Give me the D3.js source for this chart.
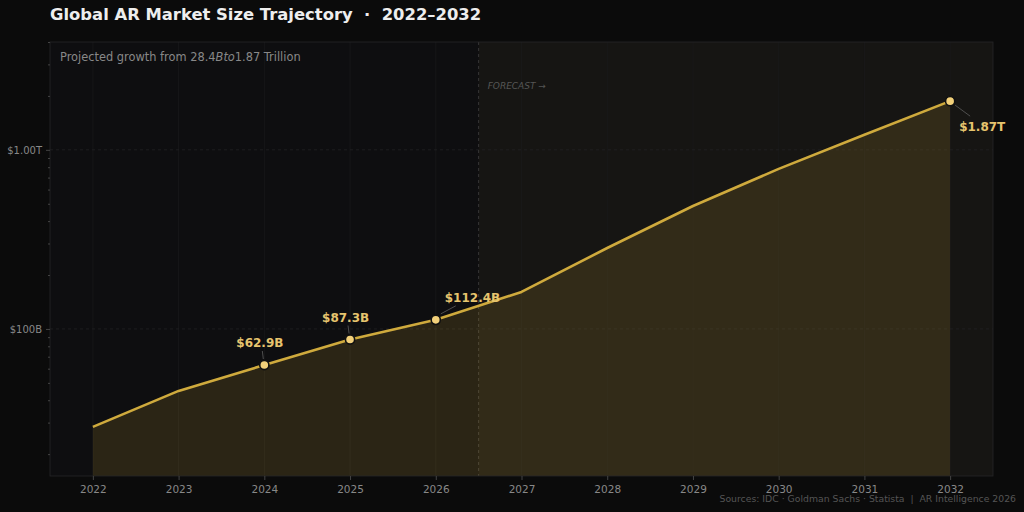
<!DOCTYPE html>
<html>
<head>
<meta charset="utf-8">
<script src="https://cdn.jsdelivr.net/npm/d3@7"></script>
<style>
  body { margin: 0; background: #0b0b0b; }
  svg { display: block; font-family: "DejaVu Sans", sans-serif; }
</style>
</head>
<body>
<script>
// data, in billions of dollars
let years = [2022, 2023, 2024, 2025, 2026, 2027, 2028, 2029, 2030, 2031, 2032];
let marketSize = [28.4, 45.1, 62.9, 87.3, 112.4, 161, 283, 486, 783, 1213, 1870];
let labelled = [
  {year: 2024, text: "$62.9B",  dx: -28, dy: -18},
  {year: 2025, text: "$87.3B",  dx: -28, dy: -18},
  {year: 2026, text: "$112.4B", dx: 9,   dy: -18},
  {year: 2032, text: "$1.87T",  dx: 9,   dy: 30}
];
let yTicks = [100, 1000];
let yTickLabels = ["$100B", "$1.00T"];
let forecastStart = 2026.5;

let width = 1024, height = 512;
let plotLeft = 50, plotRight = 993, plotTop = 42, plotBottom = 476;

let svg = d3.select("body").append("svg")
  .attr("width", width)
  .attr("height", height);

svg.append("rect").attr("width", width).attr("height", height).attr("fill", "#0b0b0b");

let xScale = d3.scaleLinear().domain([2021.5, 2032.5]).range([plotLeft, plotRight]);
let yScale = d3.scaleLog().domain([15.1, 4000]).range([plotBottom, plotTop]);

// axes background and forecast region
svg.append("rect")
  .attr("x", plotLeft).attr("y", plotTop)
  .attr("width", plotRight - plotLeft).attr("height", plotBottom - plotTop)
  .attr("fill", "#0e0e10");
svg.append("rect")
  .attr("x", xScale(forecastStart)).attr("y", plotTop)
  .attr("width", plotRight - xScale(forecastStart)).attr("height", plotBottom - plotTop)
  .attr("fill", "#161513");

// grid
svg.append("g").selectAll("line")
  .data(years)
  .enter().append("line")
  .attr("x1", d => xScale(d)).attr("x2", d => xScale(d))
  .attr("y1", plotTop).attr("y2", plotBottom)
  .attr("stroke", "#19191b").attr("stroke-width", 0.8);
svg.append("g").selectAll("line")
  .data(yTicks)
  .enter().append("line")
  .attr("x1", plotLeft).attr("x2", plotRight)
  .attr("y1", d => yScale(d)).attr("y2", d => yScale(d))
  .attr("stroke", "#222224").attr("stroke-width", 0.8)
  .attr("stroke-dasharray", "3,3");

// forecast divider
svg.append("line")
  .attr("x1", xScale(forecastStart)).attr("x2", xScale(forecastStart))
  .attr("y1", plotTop).attr("y2", plotBottom)
  .attr("stroke", "#363636").attr("stroke-width", 1)
  .attr("stroke-dasharray", "3,3");
svg.append("text")
  .attr("x", xScale(forecastStart) + 9).attr("y", 89)
  .attr("fill", "#555").attr("font-size", 9).attr("font-style", "italic")
  .text("FORECAST \u2192");

let points = years.map((y, i) => ({year: y, value: marketSize[i]}));

// area + line
let area = d3.area()
  .x(d => xScale(d.year))
  .y0(plotBottom)
  .y1(d => yScale(d.value));
svg.append("path")
  .datum(points)
  .attr("d", area)
  .attr("fill", "#d4af37").attr("fill-opacity", 0.15);

let line = d3.line()
  .x(d => xScale(d.year))
  .y(d => yScale(d.value));
svg.append("path")
  .datum(points)
  .attr("d", line)
  .attr("fill", "none")
  .attr("stroke", "#cfaa3d").attr("stroke-width", 2.6)
  .attr("stroke-linejoin", "round");

// spines
svg.append("rect")
  .attr("x", plotLeft).attr("y", plotTop)
  .attr("width", plotRight - plotLeft).attr("height", plotBottom - plotTop)
  .attr("fill", "none").attr("stroke", "#262628").attr("stroke-width", 0.8);

// x axis
let xAxis = svg.append("g").attr("transform", `translate(0,${plotBottom})`)
  .call(d3.axisBottom(xScale).tickValues(years).tickFormat(d3.format("d")).tickSize(4).tickPadding(6));
xAxis.select(".domain").remove();
xAxis.selectAll("line").attr("stroke", "#444");
xAxis.selectAll("text").attr("fill", "#888").attr("font-size", 10.5)
  .attr("font-family", "DejaVu Sans, sans-serif");

// y axis, major and minor ticks
let minor = [];
[10, 100, 1000].forEach(base => {
  for (let k = 2; k <= 9; k++) {
    let v = base * k;
    if (v >= 15.1 && v <= 4000) minor.push(v);
  }
});
let yMinor = svg.append("g").attr("transform", `translate(${plotLeft},0)`)
  .call(d3.axisLeft(yScale).tickValues(minor).tickFormat("").tickSize(2));
yMinor.select(".domain").remove();
yMinor.selectAll("line").attr("stroke", "#444");

let yAxis = svg.append("g").attr("transform", `translate(${plotLeft},0)`)
  .call(d3.axisLeft(yScale).tickValues(yTicks)
    .tickFormat((d, i) => yTickLabels[i]).tickSize(4).tickPadding(4));
yAxis.select(".domain").remove();
yAxis.selectAll("line").attr("stroke", "#444");
yAxis.selectAll("text").attr("fill", "#888").attr("font-size", 10)
  .attr("font-family", "DejaVu Sans, sans-serif");

// annotations
let ann = svg.append("g").selectAll("g")
  .data(labelled)
  .enter().append("g");
ann.append("line")
  .attr("x1", d => xScale(d.year) + (d.dx > 0 ? 5 : -1))
  .attr("y1", d => yScale(marketSize[years.indexOf(d.year)]) + (d.dy > 0 ? 4 : -6))
  .attr("x2", d => xScale(d.year) + (d.dx > 0 ? 20 : -2))
  .attr("y2", d => yScale(marketSize[years.indexOf(d.year)]) + (d.dy > 0 ? 15 : -14))
  .attr("stroke", "#555").attr("stroke-width", 0.9);
ann.append("text")
  .attr("x", d => xScale(d.year) + d.dx)
  .attr("y", d => yScale(marketSize[years.indexOf(d.year)]) + d.dy)
  .attr("fill", "#e6c46e").attr("font-size", 12).attr("font-weight", "bold")
  .text(d => d.text);

// markers
svg.append("g").selectAll("circle")
  .data(points.filter(p => labelled.some(l => l.year === p.year)))
  .enter().append("circle")
  .attr("cx", d => xScale(d.year))
  .attr("cy", d => yScale(d.value))
  .attr("r", 4.6)
  .attr("fill", "#f2d07a")
  .attr("stroke", "#111").attr("stroke-width", 1.6);

// titles
svg.append("text")
  .attr("x", plotLeft).attr("y", 20)
  .attr("fill", "#eeeeee").attr("font-size", 16.4).attr("font-weight", "bold")
  .style("white-space", "pre")
  .text("Global AR Market Size Trajectory  \u00b7  2022\u20132032");

let sub = svg.append("text")
  .attr("x", 60).attr("y", 61)
  .attr("fill", "#888").attr("font-size", 11.4);
sub.append("tspan").text("Projected growth from 28.4");
sub.append("tspan").attr("font-style", "italic").text("Bto");
sub.append("tspan").text("1.87 Trillion");

svg.append("text")
  .attr("x", 1016).attr("y", 502)
  .attr("text-anchor", "end")
  .attr("fill", "#555").attr("font-size", 9.3)
  .style("white-space", "pre")
  .text("Sources: IDC \u00b7 Goldman Sachs \u00b7 Statista  |  AR Intelligence 2026");
</script>
</body>
</html>
